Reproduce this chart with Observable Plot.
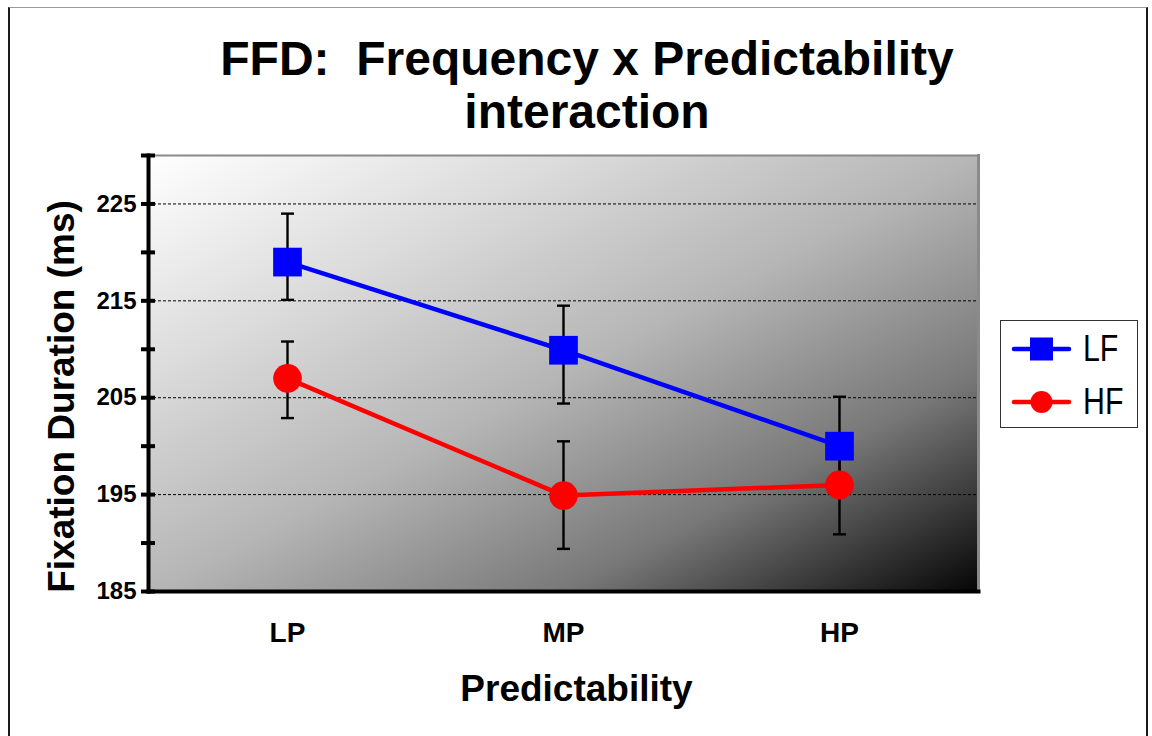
<!DOCTYPE html>
<html>
<head>
<meta charset="utf-8">
<script src="https://cdn.jsdelivr.net/npm/d3@7"></script>
<script src="https://cdn.jsdelivr.net/npm/@observablehq/plot@0.6"></script>
<style>
  html, body { margin: 0; padding: 0; background: #fff; }
  #wrap { position: relative; width: 1152px; height: 736px; overflow: hidden; background: #fff;
          font-family: "Liberation Sans", Arial, Helvetica, sans-serif; }
  #border { position: absolute; left: 8px; top: 7px; width: 1136px; height: 800px;
            border-left: 2px solid #1a1a1a; border-top: 1px solid #9a9a9a; border-right: 2px solid #1a1a1a; }
  #title { position: absolute; left: 0; top: 32px; width: 1174px; text-align: center;
           font-size: 48px; font-weight: bold; line-height: 53px; white-space: pre; color: #000; }
  #chart { position: absolute; left: 0; top: 0; }
  #legend { position: absolute; left: 1000px; top: 320px; width: 136px; height: 106px;
            border: 1px solid #333; background: #fff; }
  .lrow { position: absolute; left: 0; width: 136px; height: 50px; }
  .lrow svg { position: absolute; left: 10px; top: 10px; }
  .lrow span { position: absolute; left: 82px; top: 4px; font-size: 37px; line-height: 42px;
               display: inline-block; transform: scaleX(0.82); transform-origin: left center; color: #000; }
</style>
</head>
<body>
<div id="wrap">
  <div id="border"></div>
  <div id="chart"></div>
  <div id="title"></div>
  <div id="legend"></div>
</div>
<script>
// ---- data ----
const titleLines = ["FFD:  Frequency x Predictability", "interaction"];
const categories = ["LP", "MP", "HP"];
const seriesNames = ["LF", "HF"];
const seriesColors = ["#0000ff", "#ff0000"];
const seriesSymbols = ["square", "circle"];
const lfMean = [219.0, 209.9, 200.0];
const lfLow  = [215.1, 204.4, 194.9];
const lfHigh = [224.0, 214.5, 205.1];
const hfMean = [207.0, 194.9, 196.0];
const hfLow  = [202.9, 189.4, 190.9];
const hfHigh = [210.8, 200.5, 201.1];
const yTickLabels = [185, 195, 205, 215, 225];
const yTickMarks = [185, 190, 195, 200, 205, 210, 215, 220, 225, 230];
const gridValues = [195, 205, 215, 225];
const xLabel = "Predictability";
const yLabel = "Fixation Duration (ms)";

const seriesData = [
  {mean: lfMean, low: lfLow, high: lfHigh},
  {mean: hfMean, low: hfLow, high: hfHigh}
];
const series = seriesNames.map((name, s) => ({
  name, color: seriesColors[s], symbol: seriesSymbols[s],
  rows: categories.map((cat, i) => ({
    series: name, cat,
    mean: seriesData[s].mean[i], low: seriesData[s].low[i], high: seriesData[s].high[i]
  }))
}));
const allRows = series.flatMap(s => s.rows);

const capSymbol = {
  draw(context) { context.moveTo(-6.5, 0); context.lineTo(6.5, 0); }
};

const font = '"Liberation Sans", Arial, Helvetica, sans-serif';

const marks = [
  Plot.frame({fill: "url(#bg)", stroke: "none"}),
  Plot.ruleY(gridValues, {stroke: "#000", strokeWidth: 1, strokeDasharray: "3,2"}),
  Plot.frame({anchor: "top", stroke: "#8a8a8a", strokeWidth: 2}),
  Plot.frame({anchor: "right", stroke: "#8a8a8a", strokeWidth: 3}),
  Plot.frame({anchor: "left", stroke: "#000", strokeWidth: 4}),
  Plot.frame({anchor: "bottom", stroke: "#000", strokeWidth: 4}),
  Plot.axisY({ticks: yTickMarks, tickSize: 14, dx: 7, tickFormat: () => "", stroke: "#000", strokeWidth: 4, label: null}),
  Plot.axisY({ticks: yTickLabels, tickSize: 0, tickPadding: 12, fontSize: 24, fontWeight: "bold", fill: "#000", label: null}),
  Plot.axisX({tickSize: 0, tickPadding: 31, fontSize: 28, fontWeight: "bold", fill: "#000", label: null}),
  Plot.text([xLabel], {frameAnchor: "bottom", dx: 13, dy: 98, fontSize: 37, fontWeight: "bold", fill: "#000", lineAnchor: "middle", textAnchor: "middle"}),
  Plot.text([yLabel], {frameAnchor: "left", rotate: -90, dx: -86, dy: 23, fontSize: 37, fontWeight: "bold", fill: "#000", textAnchor: "middle", lineAnchor: "middle"}),
  // error bars
  Plot.ruleX(allRows, {x: "cat", y1: "low", y2: "high", stroke: "#000", strokeWidth: 2.4}),
  Plot.dot(allRows, {x: "cat", y: "low", symbol: capSymbol, stroke: "#000", strokeWidth: 2.4, fill: "none"}),
  Plot.dot(allRows, {x: "cat", y: "high", symbol: capSymbol, stroke: "#000", strokeWidth: 2.4, fill: "none"}),
  // lines
  ...series.map(s => Plot.line(s.rows, {x: "cat", y: "mean", stroke: s.color, strokeWidth: 4.5})),
  // markers
  ...series.map(s => Plot.dot(s.rows, {x: "cat", y: "mean", symbol: s.symbol, r: s.symbol === "square" ? 16.2 : 14.3, fill: s.color, stroke: "none"}))
];

const chart = Plot.plot({
  width: 1152,
  height: 736,
  marginLeft: 148,
  marginRight: 174,
  marginTop: 155,
  marginBottom: 145,
  style: {background: "transparent", fontFamily: font, color: "#000", overflow: "visible"},
  x: {type: "point", domain: categories, padding: 0.5, axis: null},
  y: {domain: [185, 230], axis: null},
  marks
});

// gradient definition for the plotting area background
const defs = d3.select(chart).insert("defs", ":first-child");
const grad = defs.append("linearGradient").attr("id", "bg")
  .attr("x1", 0).attr("y1", 0).attr("x2", 1).attr("y2", 1);
[[0, "#ffffff"], [0.25, "#dcdcdc"], [0.5, "#b6b6b6"], [0.75, "#787878"], [1, "#050505"]]
  .forEach(([o, c]) => grad.append("stop").attr("offset", o).attr("stop-color", c));

document.getElementById("chart").appendChild(chart);
document.getElementById("title").textContent = titleLines.join("\n");

// legend
const legend = d3.select("#legend");
series.forEach((s, i) => {
  const row = legend.append("div").attr("class", "lrow").style("top", (i * 53 + 3) + "px");
  const svg = row.append("svg").attr("width", 62).attr("height", 30);
  svg.append("line").attr("x1", 3).attr("x2", 58).attr("y1", 15).attr("y2", 15)
    .attr("stroke", s.color).attr("stroke-width", 4.5).attr("stroke-linecap", "round");
  if (s.symbol === "square") {
    svg.append("rect").attr("x", 30.5 - 11.5).attr("y", 15 - 11.5).attr("width", 23).attr("height", 23).attr("fill", s.color);
  } else {
    svg.append("circle").attr("cx", 30.5).attr("cy", 15).attr("r", 11).attr("fill", s.color);
  }
  row.append("span").text(s.name);
});
</script>
</body>
</html>
